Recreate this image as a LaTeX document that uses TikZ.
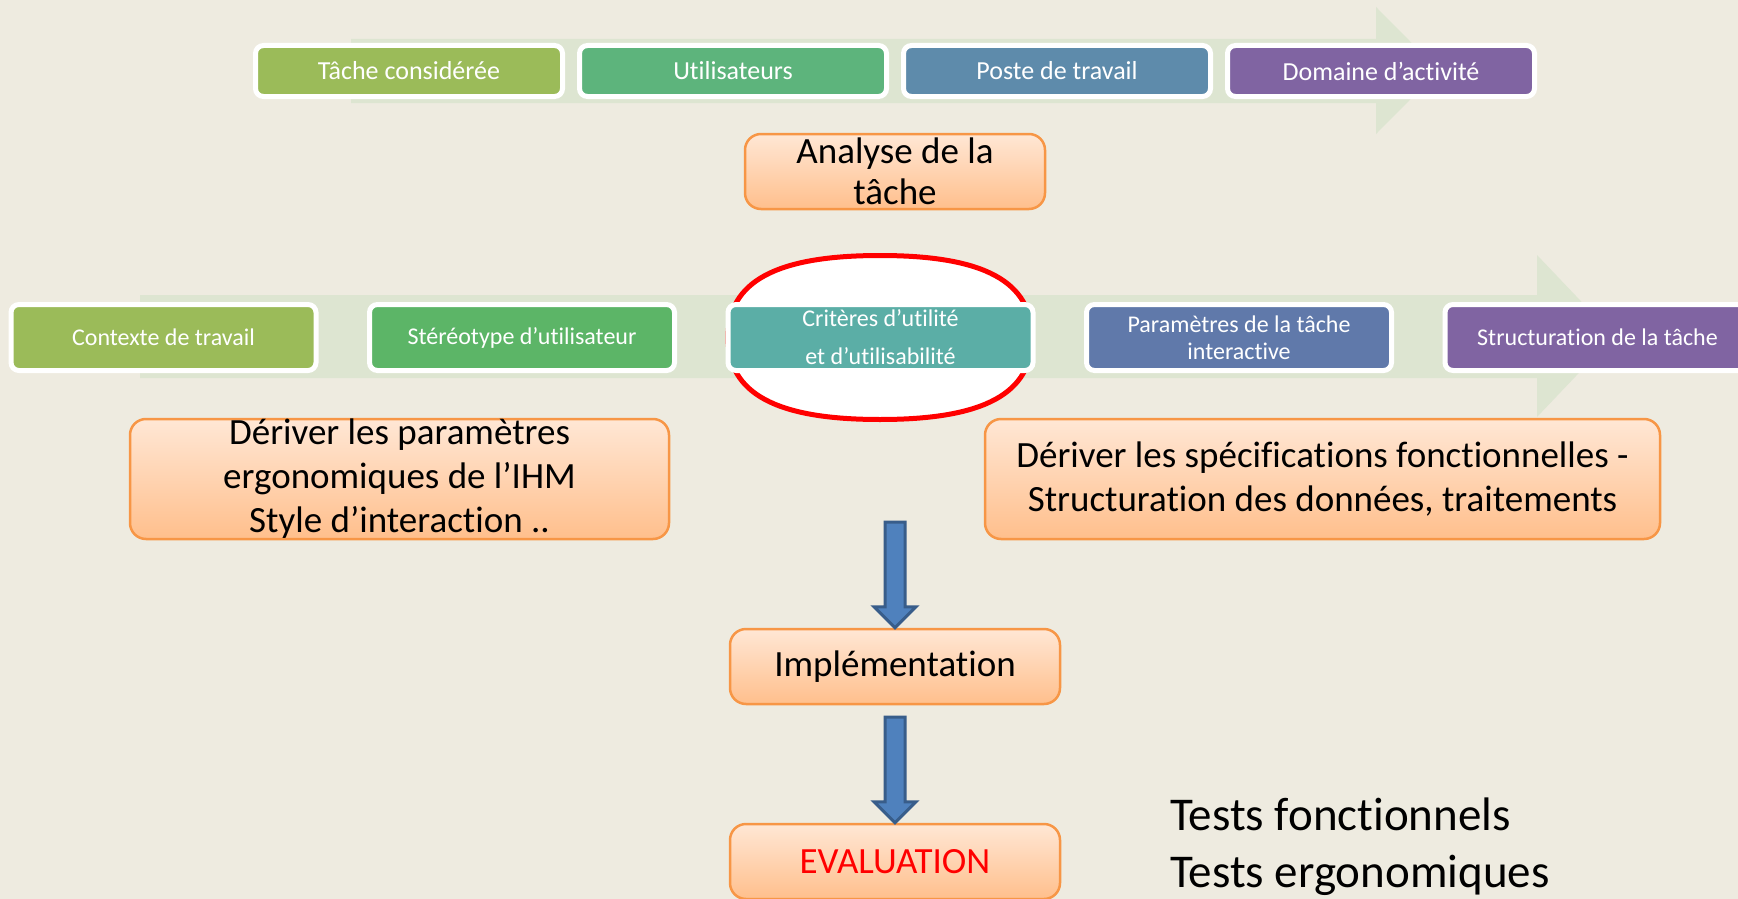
\documentclass[tikz,border=0pt]{standalone}
\usepackage{fontspec}
\setmainfont{Carlito}[Ligatures={NoCommon,NoContextual}]
\usetikzlibrary{calc}

\definecolor{bgcream}{HTML}{EEEBE0}
\definecolor{bandgreen}{HTML}{DDE5D1}
\definecolor{topA}{HTML}{9BBB59}
\definecolor{topB}{HTML}{5DB47C}
\definecolor{topC}{HTML}{5E8BAB}
\definecolor{topD}{HTML}{8064A2}
\definecolor{midA}{HTML}{9BBB59}
\definecolor{midB}{HTML}{5CB567}
\definecolor{midC}{HTML}{5BAEA6}
\definecolor{midD}{HTML}{6079AA}
\definecolor{midE}{HTML}{8064A2}
\definecolor{orangeedge}{HTML}{F79646}
\definecolor{orangetop}{HTML}{FFE7D5}
\definecolor{orangebot}{HTML}{FFBF8C}
\definecolor{arrowfill}{HTML}{4F81BD}
\definecolor{arrowedge}{HTML}{385D8A}

\begin{document}
\begin{tikzpicture}[x=1pt,y=-1pt,
		topbox/.style={draw=white, line width=5pt, rounded corners=8pt, text=white, inner sep=0pt,
			minimum width=307pt, minimum height=51pt, font=\fontsize{26}{30}\selectfont},
		midbox/.style={draw=white, line width=5pt, rounded corners=8pt, text=white, inner sep=0pt, align=center,
			minimum width=305pt, minimum height=66pt, font=\fontsize{24}{27}\selectfont},
		orangebox/.style={draw=orangeedge, line width=2.5pt, rounded corners=16pt, top color=orangetop,
			bottom color=orangebot, inner sep=0pt, align=center, font=\fontsize{37}{44}\selectfont},
		blockarrow/.style={draw=arrowedge, fill=arrowfill, line width=3pt, line join=miter,
			to path={let \p1=(\tikztostart), \p2=(\tikztotarget) in
				(\x1-10pt,\y1) -- (\x1+10pt,\y1) -- (\x1+10pt,\y2+21pt) -- (\x1+21pt,\y2+21pt)
				-- (\x1,\y2) -- (\x1-21pt,\y2+21pt) -- (\x1-10pt,\y2+21pt) -- cycle}}]
		
		% page and background
		\useasboundingbox (0,0) rectangle (1738,899);
		\fill[bgcream] (0,0) rectangle (1738,899);
		
		% pale process arrows behind the two rows
		\fill[bandgreen] (351,39) -- (1376,39) -- (1376,7) -- (1439,70.5) -- (1376,134) -- (1376,103) -- (351,103) -- cycle;
		\fill[bandgreen] (140,295) -- (1537,295) -- (1537,255) -- (1614,336) -- (1537,417) -- (1537,378) -- (140,378) -- cycle;
		
		% red highlight round the criteria
		\draw[red, line width=5pt, fill=white] (880,255.5) .. controls (985,255.5) and (1032,282) .. (1032,337.5)
			.. controls (1032,393) and (985,419.5) .. (880,419.5) .. controls (775,419.5) and (728,393) .. (728,337.5)
			.. controls (728,282) and (775,255.5) .. cycle;
		
		% top row
		\foreach \txt/\col [count=\i] in {Tâche considérée/topA, Utilisateurs/topB, Poste de travail/topC, Domaine d’activité/topD}
			\node[topbox, fill=\col] (t\i) at ({85+324*\i},71) {\txt};
		
		% middle row
		\foreach \txt/\col [count=\i] in {Contexte de travail/midA, Stéréotype d’utilisateur/midB,
				{Critères d’utilité\\[11pt]et d’utilisabilité}/midC, {Paramètres de la tâche\\interactive}/midD,
				Structuration de la tâche/midE}
			\node[midbox, fill=\col] (m\i) at ({-195+358.5*\i},337.5) {\txt};
		
		% orange steps
		\node[orangebox, minimum width=300pt, minimum height=75pt, font=\fontsize{37}{41}\selectfont] (analyse) at (895,171.5) {Analyse de la\\tâche};
		\node[orangebox, minimum width=539pt, minimum height=120pt] (derivL) at (399.5,479) {Dériver les paramètres\\ergonomiques de l’IHM\\Style d’interaction ..};
		\node[orangebox, minimum width=675pt, minimum height=120pt] (derivR) at (1322.5,479) {Dériver les spécifications fonctionnelles -\\Structuration des données, traitements};
		\node[orangebox, minimum width=330pt, minimum height=75pt] (impl) at (895,666.5) {Implémentation};
		\node[orangebox, minimum width=330pt, minimum height=75pt, text=red] (eval) at (895,861.5) {EVALUATION};
		
		% block arrows down
		\coordinate (a1) at (895,522);
		\coordinate (a2) at (895,717);
		\draw[blockarrow] (a1) to (impl.north);
		\draw[blockarrow] (a2) to (eval.north);
		
		\node[anchor=west, align=left, inner sep=0pt, font=\fontsize{47}{57}\selectfont] (tests) at (1170,847) {Tests fonctionnels\\Tests ergonomiques};
		
	\end{tikzpicture}
\end{document}
